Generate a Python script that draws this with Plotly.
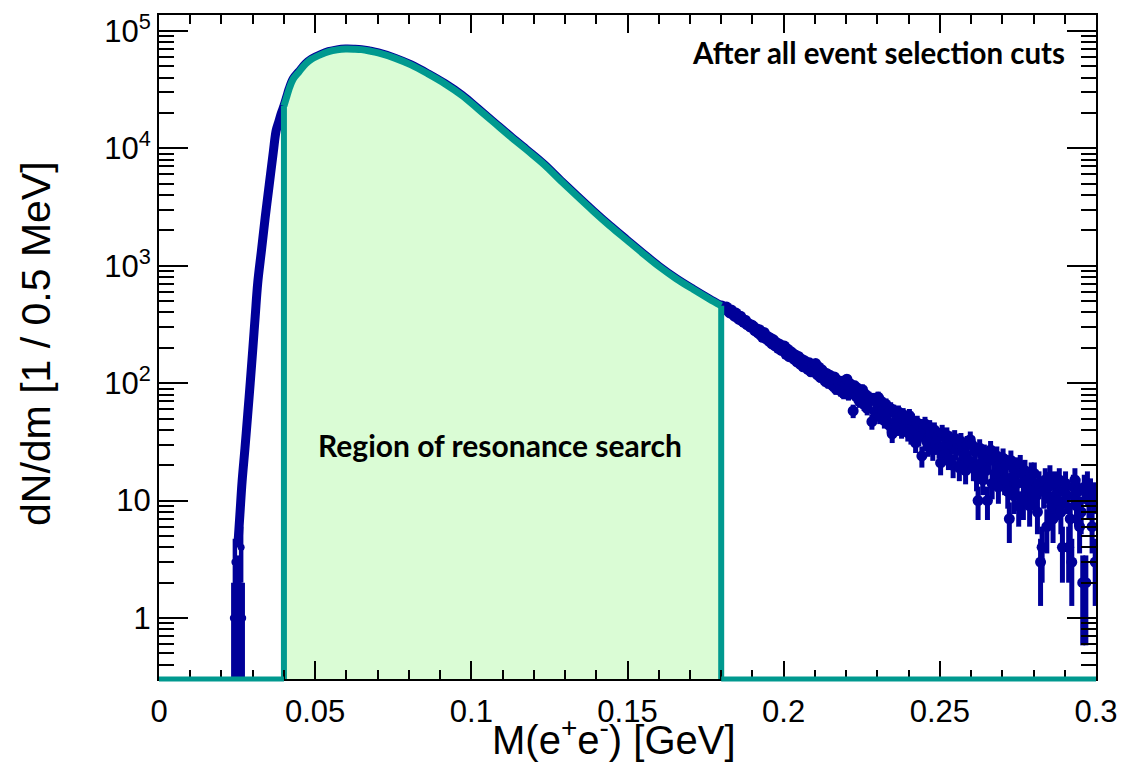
import plotly.graph_objects as go

# ---------------- data ----------------
REGION_LO = 0.04   # GeV, start of resonance-search region
REGION_HI = 0.18   # GeV, end of resonance-search region
BIN_WIDTH = 0.0005  # GeV (0.5 MeV bins)

# smooth part of the spectrum (bin centre in GeV, entries per 0.5 MeV)
mass_main = [0.0252, 0.0259, 0.0266, 0.0275, 0.0284, 0.0292, 0.0300, 0.0308,
             0.0316, 0.0328, 0.0340, 0.0353, 0.0366, 0.0375, 0.0384, 0.0392,
             0.0400, 0.0410, 0.0416, 0.0430, 0.0448, 0.0470, 0.0489, 0.0520,
             0.0543, 0.0570, 0.0597, 0.0625, 0.0648, 0.0675, 0.0702, 0.0755,
             0.0807, 0.0860, 0.0915, 0.0970, 0.1020, 0.1070, 0.1125, 0.1180,
             0.1233, 0.1285, 0.1338, 0.1390, 0.1443, 0.1497, 0.1551, 0.1600,
             0.1656, 0.1710, 0.1760, 0.1800]
counts_main = [4, 7.6, 14.5, 27.5, 54, 100, 190, 370,
               710, 1350, 2570, 4900, 9300, 14100, 17000, 20000,
               22900, 28000, 31600, 39000, 44700, 52500, 57500, 63100,
               66500, 68900, 70000, 69800, 69200, 67300, 64900, 58600,
               51300, 43200, 35500, 28200, 21800, 16800, 12600, 9550,
               7260, 5330, 3920, 2920, 2190, 1660, 1260, 990,
               775, 630, 525, 457]

# low-mass edge (few entries)
mass_low = [0.0238, 0.0243, 0.0248, 0.0253, 0.0258, 0.0263, 0.0268]
counts_low = [1, 3, 1, 2, 1, 4, 1]

# high-mass tail: every 0.5 MeV bin from 0.18 to 0.30 GeV
counts_tail = [
    455, 440, 428, 445, 410, 396, 420, 388, 372, 395, 360, 349, 371, 338, 330, 344, 316, 322, 301, 313,
    306, 280, 291, 268, 285, 255, 246, 270, 239, 251, 228, 242, 216, 234, 208, 221, 198, 214, 190, 203,
    207, 176, 195, 168, 186, 181, 160, 174, 152, 169, 145, 160, 138, 155, 142, 131, 149, 125, 140, 128,
    147, 118, 137, 112, 130, 124, 104, 121, 100, 117, 111, 95, 113, 89, 106, 101, 86, 104, 82, 97,
    108, 80, 99, 86, 58, 95, 77, 90, 70, 84, 88, 66, 80, 61, 76, 72, 47, 74, 57, 69,
    76, 52, 70, 58, 48, 66, 55, 44, 61, 37, 58, 47, 42, 57, 52, 40, 54, 43, 49, 38,
    53, 36, 48, 40, 31, 46, 35, 43, 24, 41, 45, 32, 29, 42, 38, 27, 40, 30, 35, 28,
    21, 38, 29, 25, 36, 23, 33, 30, 20, 34, 27, 31, 19, 32, 26, 24, 18, 30, 22, 33,
    30, 19, 26, 16, 10, 28, 21, 15, 25, 18, 10, 23, 27, 14, 22, 17, 24, 13, 20, 19,
    23, 15, 20, 12, 7, 22, 16, 11, 19, 14, 9, 20, 17, 10, 18, 13, 15, 9, 17, 12,
    17, 11, 8, 14, 3, 4, 12, 15, 6, 13, 16, 9, 7, 14, 11, 10, 15, 8, 4, 12,
    14, 11, 4, 7, 3, 13, 15, 9, 12, 6, 8, 2, 13, 2, 14, 10, 12, 6, 11, 3]
mass_tail = [round(REGION_HI + BIN_WIDTH * (i + 0.5), 5) for i in range(len(counts_tail))]

x_tickvals = [0, 0.05, 0.1, 0.15, 0.2, 0.25, 0.3]
x_ticktext = ["0", "0.05", "0.1", "0.15", "0.2", "0.25", "0.3"]
y_tickvals = [1, 10, 100, 1000, 10000, 100000]
y_ticktext = ["1", "10", "10<sup>2</sup>", "10<sup>3</sup>", "10<sup>4</sup>", "10<sup>5</sup>"]

# ---------------- styling ----------------
BLUE = "#000099"
TEAL = "#00998f"
FILL = "#dafcd5"
FONT = "Liberation Sans"
X_RANGE = [0.0, 0.3]
Y_RANGE_LOG = [-0.519, 5.135]
Y_BOTTOM = 10 ** Y_RANGE_LOG[0]

fig = go.Figure()

# blue: full spectrum (smooth part drawn as thick line of overlapping points)
fig.add_trace(go.Scatter(x=mass_main, y=counts_main, mode="lines",
                         line=dict(color=BLUE, width=9, shape="spline", smoothing=1.0),
                         showlegend=False, hoverinfo="skip"))
fig.add_trace(go.Scatter(x=mass_low, y=counts_low, mode="markers",
                         marker=dict(color=BLUE, size=7),
                         error_y=dict(type="sqrt", color=BLUE, thickness=4.5, width=0),
                         showlegend=False, hoverinfo="skip"))
fig.add_trace(go.Scatter(x=mass_tail, y=counts_tail, mode="markers",
                         marker=dict(color=BLUE, size=11),
                         error_y=dict(type="sqrt", color=BLUE, thickness=5, width=0),
                         showlegend=False, hoverinfo="skip"))

# teal: resonance-search region
reg_x = [m for m in mass_main if REGION_LO <= m <= REGION_HI]
reg_y = [c for m, c in zip(mass_main, counts_main) if REGION_LO <= m <= REGION_HI]
fig.add_trace(go.Scatter(x=[REGION_LO] + reg_x + [REGION_HI],
                         y=[Y_BOTTOM] + reg_y + [Y_BOTTOM],
                         mode="lines", fill="toself", fillcolor=FILL,
                         line=dict(color=FILL, width=0),
                         showlegend=False, hoverinfo="skip"))
fig.add_trace(go.Scatter(x=reg_x, y=reg_y, mode="lines",
                         line=dict(color=TEAL, width=7, shape="spline", smoothing=1.0),
                         showlegend=False, hoverinfo="skip"))
for xe, ye in [(reg_x[0], reg_y[0]), (reg_x[-1], reg_y[-1])]:
    fig.add_trace(go.Scatter(x=[xe, xe], y=[Y_BOTTOM, ye], mode="lines",
                             line=dict(color=TEAL, width=6),
                             showlegend=False, hoverinfo="skip"))

# empty bins of the teal histogram sit on the lower frame
for x0, x1 in [(X_RANGE[0], REGION_LO), (REGION_HI, X_RANGE[1])]:
    fig.add_shape(type="line", xref="x", yref="paper", x0=x0, x1=x1, y0=0, y1=0,
                  line=dict(color=TEAL, width=5), layer="above")

axis_common = dict(showline=True, linecolor="black", linewidth=2, mirror="allticks",
                   ticks="inside", tickcolor="black", showgrid=False, zeroline=False,
                   tickfont=dict(family=FONT, size=31, color="black"))

fig.update_xaxes(range=X_RANGE, tickmode="array", tickvals=x_tickvals, ticktext=x_ticktext,
                 ticklen=18, tickwidth=1.5, ticklabelstandoff=4,
                 minor=dict(ticks="inside", ticklen=9, tickwidth=1.5, dtick=0.01, tick0=0,
                            tickcolor="black", showgrid=False),
                 **axis_common)
minor_y = [m * 10 ** d for d in range(-1, 6) for m in range(2, 10)]
fig.update_yaxes(type="log", range=Y_RANGE_LOG, tickmode="array", tickvals=y_tickvals,
                 ticktext=y_ticktext, ticklen=29, tickwidth=1.5,
                 minor=dict(ticks="inside", ticklen=15, tickwidth=1.5, tickmode="array",
                            tickvals=minor_y, tickcolor="black", showgrid=False),
                 **axis_common)

fig.add_annotation(text="dN/dm [1 / 0.5 MeV]", xref="paper", yref="paper",
                   x=-0.132, y=0.505, xanchor="center", yanchor="middle", textangle=-90,
                   showarrow=False, font=dict(family=FONT, size=41, color="black"))
fig.add_annotation(text="M(e<sup>+</sup>e<sup>-</sup>) [GeV]", xref="paper", yref="paper",
                   x=0.486, y=-0.087, xanchor="center", yanchor="middle",
                   showarrow=False, font=dict(family=FONT, size=40, color="black"))
fig.add_annotation(text="After all event selection cuts", xref="paper", yref="paper",
                   x=0.969, y=0.943, xanchor="right", yanchor="middle", showarrow=False,
                   font=dict(family="Lato", size=29.5, color="black", weight="bold"))
fig.add_annotation(text="Region of resonance search", xref="paper", yref="paper",
                   x=0.364, y=0.352, xanchor="center", yanchor="middle", showarrow=False,
                   font=dict(family="Lato", size=30, color="black", weight="bold"))

fig.update_layout(width=1127, height=765, margin=dict(l=159, r=23, t=9, b=86),
                  paper_bgcolor="white", plot_bgcolor="white")

fig.write_html("out.html")
